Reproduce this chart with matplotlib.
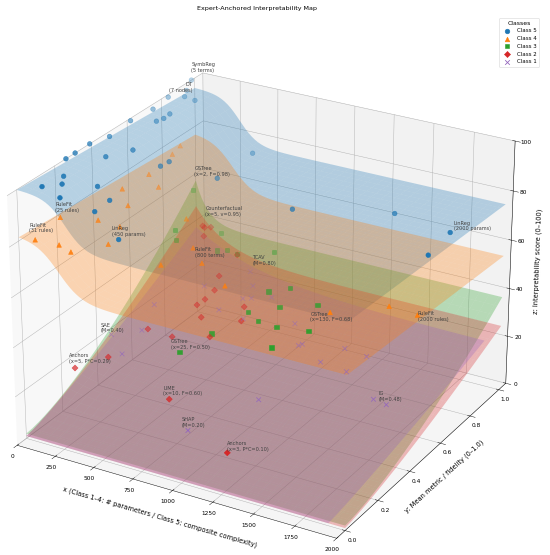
import numpy as np
import matplotlib
matplotlib.use("Agg")
from matplotlib import pyplot as plt
from mpl_toolkits.mplot3d import proj3d

# ---- expert-anchored points (x, y, z) per class ----
c5_x = [75, 130, 80, 200, 0, 0, 0, 0, 115, 236, 300, 310, 470, 175, 0, 0,
        90, 105, 100, 295, 295, 0, 20, 0, 0, 100, 470, 485, 1040, 1520, 1960, 1960]
c5_y = [0.07, 0.13, 0.18, 0.06, 0.26, 0.31, 0.39, 0.50, 0.38, 0.23, 0.24, 0.15, 0.14, 0.48, 0.62, 0.75,
        0.69, 0.72, 0.76, 0.53, 0.58, 0.84, 0.92, 0.95, 0.98, 0.91, 0.92, 0.69, 0.62, 0.78, 0.67, 0.53]
c5_z = [99, 98, 98, 97, 100, 100, 100, 98, 97, 94, 89, 89, 81, 96, 99, 98,
        97, 97, 97, 89, 88.5, 99, 96, 97, 100, 96, 79, 79.5, 78.6, 76.5, 81, 79]

c4_x = [31, 160, 210, 260, 220, 25, 150, 170, 76, 80, 166, 45, 20, 335, 500, 470, 645, 900, 1550, 1780, 1960]
c4_y = [0.06, 0.08, 0.10, 0.26, 0.36, 0.20, 0.30, 0.45, 0.50, 0.65, 0.63, 0.82, 0.89, 0.64, 0.53, 0.37,
        0.45, 0.35, 0.35, 0.48, 0.47]
c4_z = [78, 77, 74, 70, 71.5, 80, 76, 75, 78, 77, 74, 77, 77, 63, 59, 59.5, 59, 59, 59, 58.5, 58.5]

c3_x = [2, 35, 50, 200, 240, 285, 365, 560, 700, 800, 825, 1020, 680, 770, 900, 570, 950, 480, 1085]
c3_y = [0.98, 0.84, 0.83, 0.97, 0.91, 0.93, 0.92, 0.97, 0.80, 0.84, 0.75, 0.80, 0.69, 0.67, 0.66,
        0.57, 0.58, 0.46, 0.68]
c3_z = [54, 44, 40.5, 39, 35, 35, 35, 36.5, 30.5, 31.5, 28.5, 30, 27, 26, 26, 22.5, 22.5, 19, 26.5]

c2_x = [66, 79, 100, 95, 290, 296, 330, 320, 310, 550, 382, 605, 515, 320, 181, 110, 5, 590, 1125]
c2_y = [0.98, 0.98, 1.00, 0.96, 0.99, 0.87, 0.81, 0.76, 0.72, 0.79, 0.68, 0.72, 0.61, 0.56, 0.54,
        0.37, 0.27, 0.30, 0.15]
c2_z = [39.5, 39, 38.5, 36.5, 30, 27, 24.5, 23, 22.5, 22, 20.5, 20.5, 18, 17.5, 19.5, 15.5, 14.5, 10, 6]

c1_x = [400, 470, 250, 513, 477, 607, 413, 565, 844, 960, 975, 100, 140, 144, 28, 1210, 1360, 1154,
        1330, 1015, 1590, 1680, 810]
c1_y = [0.97, 0.92, 0.82, 0.87, 0.85, 0.91, 0.76, 0.77, 0.83, 0.74, 0.75, 0.65, 0.54, 0.42, 0.46,
        0.79, 0.78, 0.69, 0.68, 0.44, 0.59, 0.58, 0.21]
c1_z = [25.5, 23, 24.5, 21, 21.3, 20.8, 20, 18.2, 17.6, 15, 15.3, 22.8, 18.3, 14.7, 18.8, 15.3, 15,
        14, 13.5, 9.5, 11.5, 11.4, 6]

# ---- fitted class surfaces ----
# classes 5 and 4: plateau + tilt in y + sigmoid drop in x
plateau_low = [77, 56]
plateau_tilt = [4, 5]
plateau_rise = [19, 21]
plateau_center = [300, 250]
plateau_width = [60, 70]
# classes 3, 2, 1: grow with y (power p), peak at small x
ramp_base = [2, 1, 1]
ramp_floor = [37, 26, 18]
ramp_peak = [18, 19, 18]
ramp_decay = [80, 200, 400]
ramp_power = [1.5, 1.3, 1.2]
ramp_xmax = [2000, 2000, 1900]

# annotations: text, x, y, z, horizontal alignment
notes = [
    ("SymbReg\n(5 terms)", 0, 0.98, 103, "left"),
    ("DT\n(7 nodes)", 38, 0.95, 96.5, "right"),
    ("RuleFit\n(25 rules)", 30, 0.17, 83.4, "left"),
    ("RuleFit\n(31 rules)", 31, 0.03, 82, "left"),
    ("LinReg\n(450 params)", 426, 0.14, 81.5, "left"),
    ("LinReg\n(2000 params)", 2000, 0.65, 83, "left"),
    ("GSTree\n(x=2, F=0.98)", 2, 0.99, 59, "left"),
    ("Counterfactual\n(x=5, v=0.95)", 85, 0.98, 43.5, "left"),
    ("RuleFit\n(800 terms)", 600, 0.45, 60.3, "left"),
    ("TCAV\n(M=0.80)", 413, 0.97, 28.3, "left"),
    ("SAE\n(M=0.40)", 28, 0.40, 22.5, "left"),
    ("Anchors\n(x=5, P*C=0.29)", 5, 0.24, 17.9, "left"),
    ("GSTree\n(x=25, F=0.50)", 436, 0.45, 19.8, "left"),
    ("LIME\n(x=10, F=0.60)", 552, 0.30, 10.5, "left"),
    ("SHAP\n(M=0.20)", 772, 0.21, 6.5, "left"),
    ("Anchors\n(x=3, P*C=0.10)", 1125, 0.15, 6.4, "left"),
    ("GSTree\n(x=130, F=0.68)", 1430, 0.35, 53.1, "left"),
    ("RuleFit\n(2000 rules)", 2000, 0.43, 58.5, "left"),
    ("IG\n(M=0.48)", 1630, 0.58, 11.8, "left"),
]

fig = plt.figure(figsize=(13.75, 13.875), dpi=40)
ax = fig.add_axes([-0.045, -0.057, 1.03, 1.03], projection="3d", computed_zorder=False)

gy = np.linspace(0, 1, 31)

# draw order (bottom to top): blue, green, red, purple, orange
for i, (col, zo) in enumerate([("tab:blue", 1), ("tab:orange", 5)]):
    X, Y = np.meshgrid(np.linspace(0, 2000, 101), gy)
    S = 1 / (1 + np.exp((X - plateau_center[i]) / plateau_width[i]))
    Z = plateau_low[i] + plateau_tilt[i] * (1 - Y) + plateau_rise[i] * S
    ax.plot_surface(X, Y, Z, color=col, alpha=0.3, linewidth=0, shade=False, zorder=zo)
for i, (col, zo) in enumerate([("tab:green", 2), ("tab:red", 3), ("tab:purple", 4)]):
    X, Y = np.meshgrid(np.linspace(0, ramp_xmax[i], 101), gy)
    Z = ramp_base[i] + Y ** ramp_power[i] * (ramp_floor[i] + ramp_peak[i] * np.exp(-X / ramp_decay[i]))
    ax.plot_surface(X, Y, Z, color=col, alpha=0.3, linewidth=0, shade=False, zorder=zo)

ax.scatter(c5_x, c5_y, c5_z, c="tab:blue", marker="o", s=70, label="Class 5", zorder=10)
ax.scatter(c4_x, c4_y, c4_z, c="tab:orange", marker="^", s=70, label="Class 4", zorder=10)
ax.scatter(c3_x, c3_y, c3_z, c="tab:green", marker="s", s=60, label="Class 3", zorder=10)
ax.scatter(c2_x, c2_y, c2_z, c="tab:red", marker="D", s=60, label="Class 2", zorder=10)
ax.scatter(c1_x, c1_y, c1_z, c="tab:purple", marker="x", s=70, label="Class 1", zorder=10)

ax.set_xlim(0, 2000)
ax.set_ylim(-0.05, 1.05)
ax.set_zlim(0, 100)
ax.set_xticks([0, 250, 500, 750, 1000, 1250, 1500, 1750, 2000])
ax.set_yticks([0, 0.2, 0.4, 0.6, 0.8, 1.0])
ax.set_zticks([0, 20, 40, 60, 80, 100])
ax.tick_params(labelsize=10.5)
ax.zaxis.set_ticks_position("upper")
ax.zaxis.set_label_position("upper")

ax.set_xlabel("x (Class 1–4: # parameters / Class 5: composite complexity)", fontsize=12, labelpad=14)
ax.set_ylabel("y: Mean metric / fidelity (0–1.0)", fontsize=12, labelpad=10)
ax.set_zlabel("z: Interpretability score (0–100)", fontsize=12, labelpad=10)
ax.view_init(elev=26, azim=-60)

fig.text(0.467, 0.985, "Expert-Anchored Interpretability Map", ha="center", va="center", fontsize=11.5)
fig.legend(loc="upper right", bbox_to_anchor=(0.985, 0.972), title="Classes", fontsize=10, title_fontsize=11)

# annotations: project the 3D anchor with the axes' own projection, then place as 2D text
fig.canvas.draw()
for txt, tx, ty, tz, ha in notes:
    px, py, _ = proj3d.proj_transform(tx, ty, tz, ax.get_proj())
    ax.text2D(px, py, txt, transform=ax.transData, fontsize=9, color="0.25",
              ha=ha, va="bottom", zorder=11)

fig.savefig("out.png", dpi=40)
